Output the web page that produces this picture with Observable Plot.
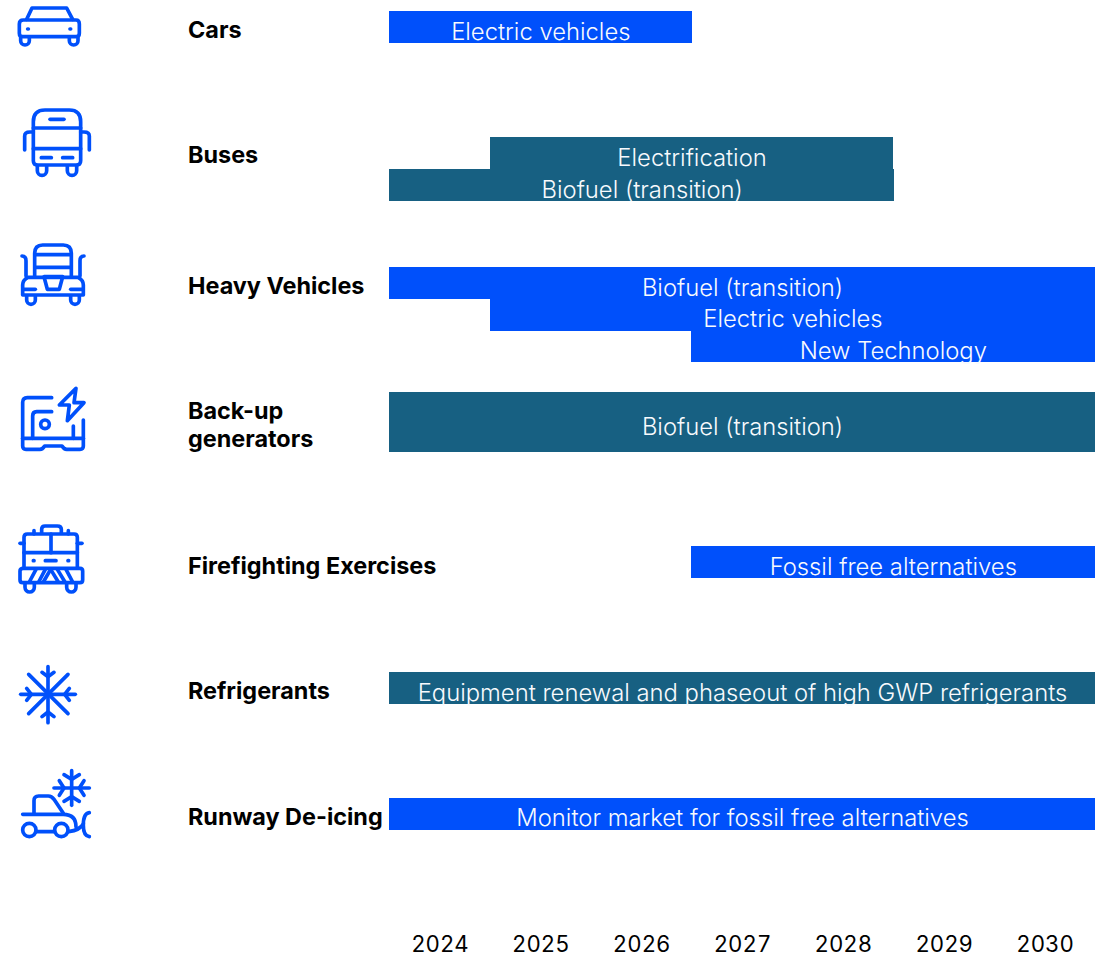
<!DOCTYPE html>
<html>
<head>
<meta charset="utf-8">
<script src="https://cdn.jsdelivr.net/npm/d3@7"></script>
<script src="https://cdn.jsdelivr.net/npm/@observablehq/plot@0.6"></script>
<style>
  html, body { margin: 0; padding: 0; background: #fff; }
  svg { display: block; }
</style>
</head>
<body>
<div id="chart"></div>
<script>
// Phase-out roadmap: one row per emission source, one bar per measure.
const years = [2024, 2025, 2026, 2027, 2028, 2029, 2030];

const sourceNames = ["Cars", "Buses", "Heavy Vehicles", "Back-up\ngenerators", "Firefighting Exercises", "Refrigerants", "Runway De-icing"];
const sourceLanes = [0.92, 4.9, 9.02, 13.42, 17.88, 21.86, 25.85];

const measureLabels = ["Electric vehicles", "Electrification", "Biofuel (transition)", "Biofuel (transition)", "Electric vehicles", "New Technology", "Biofuel (transition)", "Fossil free alternatives", "Equipment renewal and phaseout of high GWP refrigerants", "Monitor market for fossil free alternatives"];
const measureStart = [2023.5, 2024.5, 2023.5, 2023.5, 2024.5, 2026.49, 2023.5, 2026.49, 2023.5, 2023.5];
const measureEnd = [2026.5, 2028.5, 2028.51, 2030.5, 2030.5, 2030.5, 2030.5, 2030.5, 2030.5, 2030.5];
const measureLaneTop = [0.35, 4.335, 5.348, 8.45, 9.46, 10.46, 12.41, 17.28, 21.27, 25.25];
const measureLaneBottom = [1.36, 5.348, 6.36, 9.46, 10.46, 11.46, 14.3, 18.29, 22.28, 26.26];
const measureGroup = ["electric", "transition", "transition", "electric", "electric", "electric", "transition", "electric", "transition", "electric"];

const measures = measureLabels.map((label, i) => ({
  label,
  start: measureStart[i],
  end: measureEnd[i],
  mid: (measureStart[i] + measureEnd[i]) / 2,
  top: measureLaneTop[i],
  bottom: measureLaneBottom[i],
  middle: (measureLaneTop[i] + measureLaneBottom[i]) / 2,
  group: measureGroup[i]
}));
const sources = sourceNames.map((name, i) => ({name, lane: sourceLanes[i]}));

// Line icons, sketched on a 3x grid and shown at 1/3 scale in the left gutter.
const icons = [
  {dy: 0, paths: [
    "M70 60H228Q238 60 238 72V100Q238 110 228 110H68Q58 110 58 100V72Q58 60 70 60Z",
    "M80 58L96 24H200L218 58",
    "M62 112V122A13 13 0 0 0 88 122V112", "M208 112V122A13 13 0 0 0 234 122V112",
    "M83 87H85", "M210 87H212"]},
  {dy: 0, paths: [
    "M100 365Q100 330 135 330H208Q242 330 242 365V482Q242 495 228 495H114Q100 495 100 482Z",
    "M100 384H242", "M100 446H242", "M150 358H192", "M124 473H154", "M188 473H218",
    "M74 450V408Q74 396 90 396H100", "M268 450V408Q268 396 252 396H242",
    "M112 498V512A14 14 0 0 0 140 512V498", "M202 498V512A14 14 0 0 0 230 512V498"]},
  {dy: 0, paths: [
    "M104 830V760Q104 735 128 735H190Q214 735 214 760V830",
    "M106 764H212", "M106 802H212",
    "M66 768Q78 768 78 782V828", "M252 768Q240 768 240 782V828",
    "M84 832H234Q250 840 250 855V885H68V855Q68 840 84 832Z",
    "M132 830H188L178 868H142Z", "M72 868H106", "M212 868H246",
    "M80 888V900A13 13 0 0 0 106 900V888", "M212 888V900A13 13 0 0 0 238 900V888"]},
  {dy: 370, paths: [
    "M155 83H82Q68 83 68 97V228Q68 238 78 238H120Q128 238 134 228H186Q192 238 200 238H240Q250 238 250 228V150",
    "M68 205H250", "M155 125H110Q98 125 98 138V205", "M220 168V205",
    "M228 55L178 105H208L202 152L252 98H222Z"],
    circles: [[135, 163, 13]]},
  {dy: 370, paths: [
    "M125 488V478Q125 468 135 468H172Q184 468 184 478V488",
    "M72 590V502Q72 492 82 492H222Q232 492 232 502V590",
    "M72 548H232", "M153 492V548", "M102 482V492", "M205 482V492", "M60 520H72", "M232 520H246",
    "M100 572H102", "M204 572H206", "M136 572H168",
    "M70 595H240Q248 595 248 603V630Q248 638 240 638H68Q60 638 60 630V603Q60 595 70 595Z",
    "M108 598L88 636", "M136 598L116 636", "M152 598L130 636", "M152 598L175 636", "M172 598L195 636", "M198 598L218 636",
    "M75 640V652A14 14 0 0 0 103 652V640", "M200 640V652A14 14 0 0 0 228 652V640"]},
  {dy: 650, paths: [
    "M144 50V218", "M62 133H226", "M86 73L204 191", "M204 73L86 191",
    "M126 67L144 80L162 67", "M126 200L144 186L162 200", "M80 115L94 133L80 151", "M208 115L194 133L208 151"]},
  {dy: 650, paths: [
    "M215 362V466", "M162 414H268",
    "M192 374L215 388L238 374", "M192 454L215 440L238 454", "M178 392L192 414L178 436", "M252 392L238 414L252 436",
    "M102 490V452Q102 438 116 438H145Q155 438 162 448L190 490",
    "M68 493H190Q228 493 228 530", "M108 545H164", "M206 545Q240 540 250 522",
    "M268 488Q250 490 250 525Q250 558 268 560"],
    circles: [[88, 540, 20], [184, 540, 20]]}
];

const iconMark = () => {
  const g = d3.create("svg:g")
    .attr("fill", "none")
    .attr("stroke", "#0050fb")
    .attr("stroke-width", 11)
    .attr("stroke-linecap", "round")
    .attr("stroke-linejoin", "round");
  for (const icon of icons) {
    const group = g.append("g").attr("transform", `translate(0,${icon.dy}) scale(${1 / 3})`);
    for (const d of icon.paths) group.append("path").attr("d", d);
    for (const [cx, cy, r] of icon.circles ?? []) group.append("circle").attr("cx", cx).attr("cy", cy).attr("r", r);
  }
  return g.node();
};

const font = "Inter, 'Noto Sans', sans-serif";

const chart = Plot.plot({
  width: 1102,
  height: 956,
  marginLeft: 389,
  marginRight: 7,
  marginTop: 0,
  marginBottom: 30,
  style: {fontFamily: font, background: "#fff"},
  x: {domain: [2023.5, 2030.5], axis: null},
  y: {domain: [0, 926 / 31.6], reverse: true, axis: null},
  color: {domain: ["electric", "transition"], range: ["#0050fb", "#176082"]},
  marks: [
    Plot.rect(measures, {x1: "start", x2: "end", y1: "top", y2: "bottom", fill: "group", shapeRendering: "crispEdges"}),
    Plot.text(measures, {x: "mid", y: "middle", text: "label", fill: "#f8fafd", fontSize: 23.8, fontWeight: 300, dy: 4.5}),
    Plot.text(sources, {frameAnchor: "left", y: "lane", text: "name", dx: -201.5, dy: -1, textAnchor: "start", fontSize: 23.4, fontWeight: 700, fill: "#000", lineHeight: 1.2}),
    Plot.axisX({ticks: years, tickFormat: d3.format("d"), tickSize: 0, tickPadding: 10, fontSize: 22.2, fontWeight: 400, fill: "#000", label: null}),
    iconMark
  ]
});
document.getElementById("chart").append(chart);
</script>
</body>
</html>
